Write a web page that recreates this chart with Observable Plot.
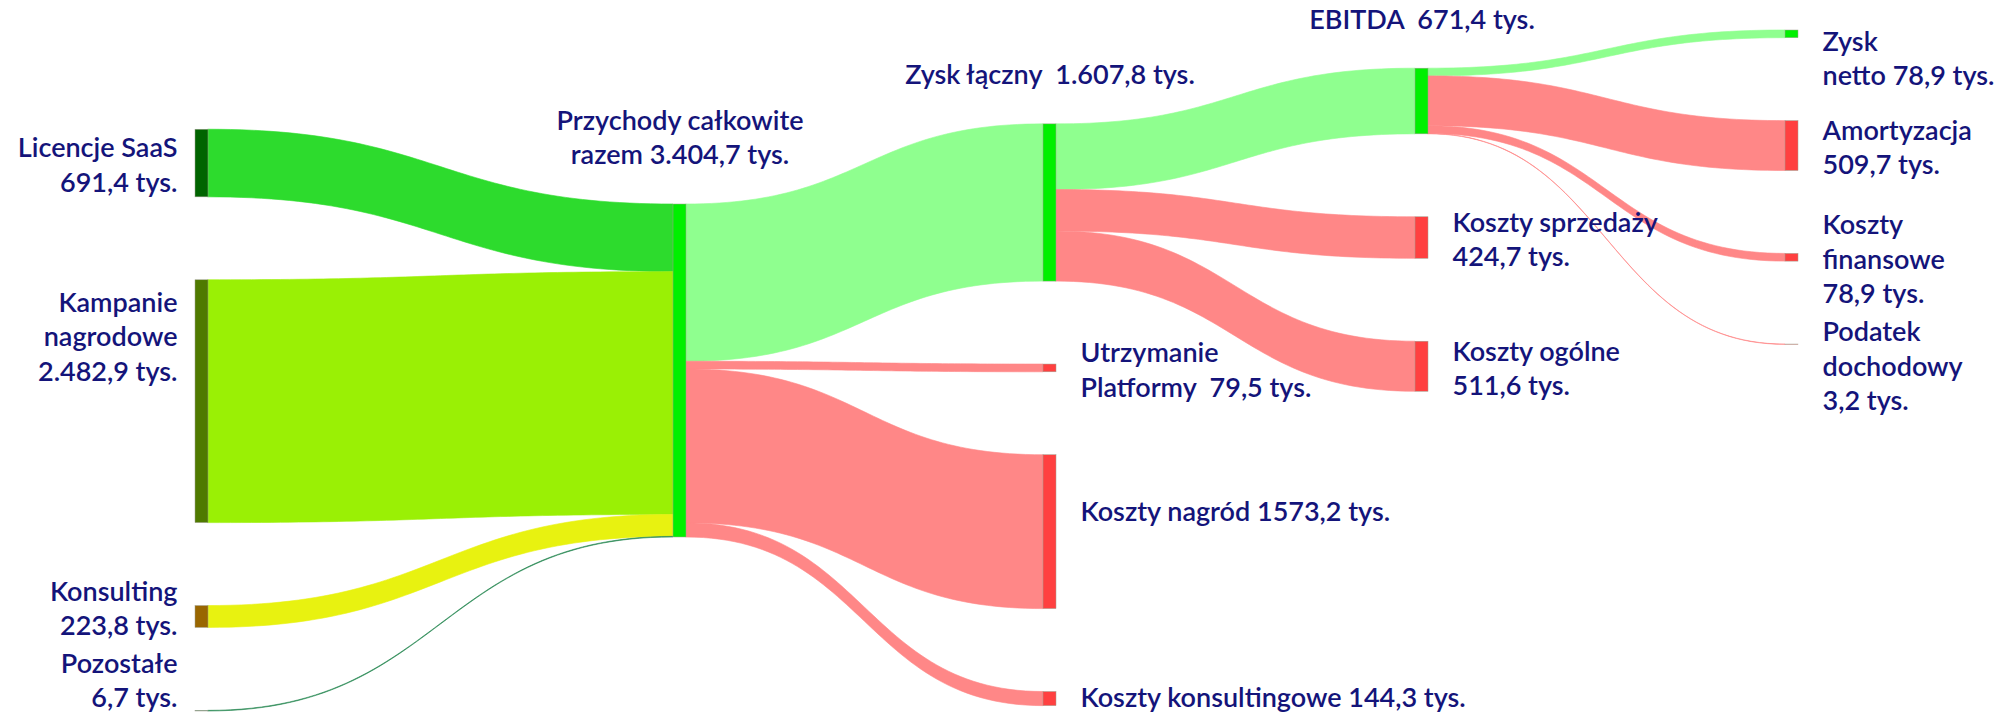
<!DOCTYPE html>
<html><head><meta charset="utf-8">
<script src="https://cdn.jsdelivr.net/npm/d3@7"></script>
<script src="https://cdn.jsdelivr.net/npm/@observablehq/plot@0.6"></script>
<style>html,body{margin:0;padding:0;background:#fff;} #chart svg{display:block;}</style>
</head><body><div id="chart"></div>
<script>
// ---------- DATA ----------
const nodeNames = ["Licencje SaaS","Kampanie nagrodowe","Konsulting","Pozostałe","Przychody całkowite",
  "Zysk łączny","Utrzymanie Platformy","Koszty nagród","Koszty konsultingowe",
  "EBITDA","Koszty sprzedaży","Koszty ogólne",
  "Zysk netto","Amortyzacja","Koszty finansowe","Podatek dochodowy"];
const nodeKinds = ["income","income","income","income","profit",
  "profit","cost","cost","cost",
  "profit","cost","cost",
  "profit","cost","cost","cost"];
const nodeLabels = [
  "Licencje SaaS\n691,4 tys.",
  "Kampanie\nnagrodowe\n2.482,9 tys.",
  "Konsulting\n223,8 tys.",
  "Pozostałe\n6,7 tys.",
  "Przychody całkowite\nrazem 3.404,7 tys.",
  "Zysk łączny  1.607,8 tys.",
  "Utrzymanie\nPlatformy  79,5 tys.",
  "Koszty nagród 1573,2 tys.",
  "Koszty konsultingowe 144,3 tys.",
  "EBITDA  671,4 tys.",
  "Koszty sprzedaży\n424,7 tys.",
  "Koszty ogólne\n511,6 tys.",
  "Zysk\nnetto 78,9 tys.",
  "Amortyzacja\n509,7 tys.",
  "Koszty\nfinansowe\n78,9 tys.",
  "Podatek\ndochodowy\n3,2 tys."
];
const linkSources = ["Licencje SaaS","Kampanie nagrodowe","Konsulting","Pozostałe",
  "Przychody całkowite","Przychody całkowite","Przychody całkowite","Przychody całkowite",
  "Zysk łączny","Zysk łączny","Zysk łączny",
  "EBITDA","EBITDA","EBITDA","EBITDA"];
const linkTargets = ["Przychody całkowite","Przychody całkowite","Przychody całkowite","Przychody całkowite",
  "Zysk łączny","Utrzymanie Platformy","Koszty nagród","Koszty konsultingowe",
  "EBITDA","Koszty sprzedaży","Koszty ogólne",
  "Zysk netto","Amortyzacja","Koszty finansowe","Podatek dochodowy"];
const linkValues = [691.4, 2482.9, 223.8, 6.7,
  1607.8, 79.5, 1573.2, 144.3,
  671.4, 424.7, 511.6,
  78.9, 509.7, 78.9, 3.2];

// ---------- STYLE ----------
const nodeColors = {
  "Licencje SaaS": "#006400", "Kampanie nagrodowe": "#4f7a00", "Konsulting": "#996600", "Pozostałe": "#2e8b57",
  profit: "#00f000", cost: "#ff4040"
};
const sourceLinkColors = {
  "Licencje SaaS": "#2ddb2d", "Kampanie nagrodowe": "#9af005", "Konsulting": "#e8f210", "Pozostałe": "#2e8b57"
};
const profitLinkColor = "#8fff8f", costLinkColor = "#ff8787";
const textColor = "#14147a";
const W = 2013, H = 718, MT = 30, MB = 7;
const colPx = [195, 673, 1043, 1415, 1785];
const nodeW = 13;
const EXTENT_FACTOR = 2.045, GAP_FACTOR = 0.249;
const FONT = 27, LH = 1.28, WEIGHT = 600;
const LABEL_TOP = 22, LABEL_BOTTOM = 713, LABEL_GAP = 3, LABEL_MAX_DROP = 55;

// ---------- LAYOUT ----------
const nodes = nodeNames.map((name, i) => ({name, kind: nodeKinds[i], label: nodeLabels[i], ins: [], outs: [], idx: i}));
const byName = new Map(nodes.map(n => [n.name, n]));
const links = linkValues.map((v, i) => ({source: byName.get(linkSources[i]), target: byName.get(linkTargets[i]), value: v, idx: i}));
links.forEach(l => { l.source.outs.push(l); l.target.ins.push(l); });
nodes.forEach(n => { n.value = Math.max(d3.sum(n.ins, l => l.value), d3.sum(n.outs, l => l.value)); n.col = 0; });
for (let k = 0; k < nodes.length; k++) links.forEach(l => { l.target.col = Math.max(l.target.col, l.source.col + 1); });
const nCols = d3.max(nodes, n => n.col) + 1;
const columns = d3.range(nCols).map(c => nodes.filter(n => n.col === c));
nodes.forEach(n => {
  n.outs.sort((a, b) => a.target.idx - b.target.idx);
  n.ins.sort((a, b) => a.source.idx - b.source.idx);
  let o = 0; n.outs.forEach(l => { l.sy = o; o += l.value; });
  o = 0; n.ins.forEach(l => { l.ty = o; o += l.value; });
});
const maxTotal = d3.max(columns, c => d3.sum(c, n => n.value));
const extent = maxTotal * EXTENT_FACTOR;
const gap = maxTotal * GAP_FACTOR;
columns.forEach(c => { let o = 0; c.forEach(n => { n.off = o; o += n.value + gap; }); c.height = o - gap; });
function setCol(c, t) { c.t = Math.max(0, Math.min(extent - c.height, t)); c.forEach(n => { n.y0 = c.t + n.off; n.y1 = n.y0 + n.value; }); }
columns.forEach(c => setCol(c, (extent - c.height) / 2));
const hub = d3.greatest(nodes, n => n.value);
function place(ci, useLeft, useRight) {
  const c = columns[ci]; let s = 0, sw = 0;
  for (const n of c) {
    if (useLeft) for (const l of n.ins) { s += l.value * (l.source.y0 + l.sy - n.off - l.ty); sw += l.value; }
    if (useRight) for (const l of n.outs) { s += l.value * (l.target.y0 + l.ty - n.off - l.sy); sw += l.value; }
  }
  if (sw > 0) setCol(c, s / sw);
}
for (let ci = hub.col + 1; ci < nCols; ci++) place(ci, true, false);
for (let ci = hub.col - 1; ci >= 0; ci--) place(ci, false, true);
for (let it = 0; it < 40; it++) {
  for (let ci = 0; ci < nCols; ci++) if (ci !== hub.col) place(ci, true, true);
  for (let ci = nCols - 1; ci >= 0; ci--) if (ci !== hub.col) place(ci, true, true);
}
const segW = c => c < nCols - 1 ? colPx[c + 1] - colPx[c] : colPx[c] - colPx[c - 1];
const xAt = (c, px) => c + px / segW(c);

// link bands (cubic Bézier, constant vertical thickness)
const samples = [];
for (const l of links) {
  const xs = xAt(l.source.col, nodeW), xt = l.target.col, xm = (xs + xt) / 2;
  const ys = l.source.y0 + l.sy, yt = l.target.y0 + l.ty;
  const color = l.source.kind === "income" ? sourceLinkColors[l.source.name]
    : l.target.kind === "profit" ? profitLinkColor : costLinkColor;
  for (let i = 0; i <= 60; i++) {
    const t = i / 60, u = 1 - t;
    const x = u*u*u*xs + 3*u*u*t*xm + 3*u*t*t*xm + t*t*t*xt;
    const y = ys + (yt - ys) * (3*t*t - 2*t*t*t);
    samples.push({link: l.idx, x, y1: y, y2: y + l.value, color});
  }
}

// labels: centred on the node (or near the top of tall nodes), collisions resolved per column
const ky = (H - MT - MB) / extent;
const linePx = FONT * LH;
nodes.forEach(n => {
  n.nLines = n.label.split("\n").length;
  n.side = (n.ins.length && n.outs.length) ? "above" : (!n.ins.length ? "left" : "right");
  n.ly = (n.y0 + n.y1) / 2;
});
for (const [, g] of d3.groups(nodes.filter(n => n.side !== "above"), n => n.col + n.side)) {
  const items = g.slice().sort((a, b) => a.y0 - b.y0).map(n => {
    const h = n.nLines * linePx;
    const c = MT + ky * n.y0 + Math.min(ky * n.value / 2, LABEL_MAX_DROP);
    return {n, h, top: c - h / 2};
  });
  let prev = LABEL_TOP - LABEL_GAP;
  for (const it of items) { it.top = Math.max(it.top, prev + LABEL_GAP); prev = it.top + it.h; }
  let next = LABEL_BOTTOM + LABEL_GAP;
  for (const it of items.slice().reverse()) { if (it.top + it.h > next - LABEL_GAP) it.top = next - LABEL_GAP - it.h; next = it.top; }
  prev = LABEL_TOP - LABEL_GAP;
  for (const it of items) { it.top = Math.max(it.top, prev + LABEL_GAP); prev = it.top + it.h; }
  items.forEach(it => { it.n.ly = (it.top + it.h / 2 - MT) / ky; });
}
const textOpts = {fontSize: FONT, lineHeight: LH, fontFamily: "Lato, sans-serif", fontWeight: WEIGHT, fill: textColor, text: "label"};

const chart = Plot.plot({
  width: W, height: H,
  x: {axis: null, type: "linear", domain: d3.range(nCols), range: colPx},
  y: {axis: null, type: "linear", domain: [0, extent], range: [MT, H - MB]},
  color: {type: "identity"},
  style: {fontFamily: "Lato, sans-serif", whiteSpace: "pre", background: "#fff"},
  marks: [
    Plot.areaY(samples, {x: "x", y1: "y1", y2: "y2", z: "link", fill: "color", stroke: "color", strokeWidth: 0.6, curve: "linear"}),
    Plot.rect(nodes, {x1: n => n.col, x2: n => xAt(n.col, nodeW), y1: "y0", y2: "y1",
      fill: n => n.kind === "income" ? nodeColors[n.name] : nodeColors[n.kind], stroke: "#a0a090", strokeWidth: 0.5}),
    Plot.text(nodes.filter(n => n.side === "left"), {...textOpts, x: n => n.col, y: "ly", dx: -18, textAnchor: "end", lineAnchor: "middle"}),
    Plot.text(nodes.filter(n => n.side === "right"), {...textOpts, x: n => xAt(n.col, nodeW), y: "ly", dx: 24, textAnchor: "start", lineAnchor: "middle"}),
    Plot.text(nodes.filter(n => n.side === "above"), {...textOpts, x: n => xAt(n.col, nodeW / 2), y: "y0", dy: -40, textAnchor: "middle", lineAnchor: "bottom"})
  ]
});
document.getElementById("chart").append(chart);
</script></body></html>
